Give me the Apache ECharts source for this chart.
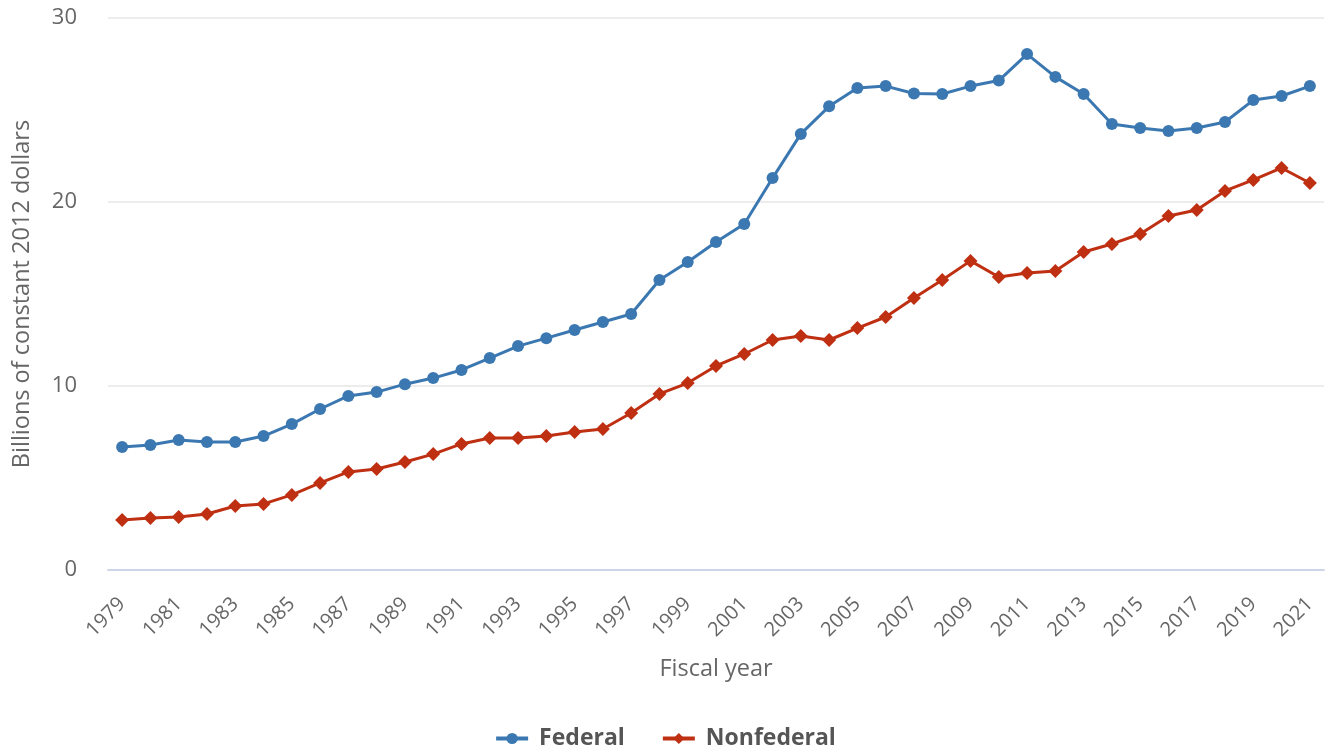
<!DOCTYPE html>
<html>
<head>
<meta charset="utf-8">
<script src="https://cdn.jsdelivr.net/npm/echarts@6/dist/echarts.min.js"></script>
<style>html,body{margin:0;padding:0;background:#fff}#c{width:1330px;height:750px}</style>
</head>
<body>
<div id="c"></div>
<script>
const years = [1979,1980,1981,1982,1983,1984,1985,1986,1987,1988,1989,1990,1991,1992,1993,1994,1995,1996,1997,1998,1999,2000,2001,2002,2003,2004,2005,2006,2007,2008,2009,2010,2011,2012,2013,2014,2015,2016,2017,2018,2019,2020,2021].map(String);
const federal = [6.68,6.79,7.07,6.96,6.96,7.28,7.93,8.75,9.46,9.67,10.1,10.43,10.87,11.52,12.17,12.6,13.04,13.48,13.91,15.76,16.74,17.83,18.8,21.3,23.7,25.2,26.2,26.3,25.9,25.87,26.3,26.6,28.04,26.8,25.87,24.24,24.02,23.86,24.02,24.35,25.54,25.76,26.3];
const nonfederal = [2.72,2.83,2.88,3.04,3.48,3.59,4.08,4.73,5.33,5.49,5.87,6.3,6.85,7.17,7.17,7.28,7.5,7.66,8.53,9.57,10.16,11.09,11.74,12.5,12.72,12.5,13.15,13.75,14.78,15.76,16.8,15.92,16.14,16.25,17.28,17.72,18.26,19.24,19.57,20.6,21.2,21.85,21.03];
const seriesNames = ['Federal','Nonfederal'];
const yTicks = [0,10,20,30];

const chart = echarts.init(document.getElementById('c'), null, {renderer:'canvas'});
const font = '"Open Sans", sans-serif';
chart.setOption({
  animation:false,
  textStyle:{fontFamily:font},
  grid:{left:108,right:6,top:18,bottom:180,containLabel:false},
  legend:{
    top:722, left:'center', itemWidth:32, itemHeight:14, itemGap:36,
    lineStyle:{width:4},
    textStyle:{fontFamily:font,fontSize:23,fontWeight:'bold',color:'#555',padding:[0,0,0,6]},
    data:seriesNames
  },
  xAxis:{
    type:'category', data:years, boundaryGap:true,
    name:'Fiscal year', nameLocation:'middle', nameGap:87,
    nameTextStyle:{fontFamily:font,fontSize:23.5,color:'#666'},
    axisLine:{lineStyle:{color:'#ccd6eb',width:2}},
    axisTick:{alignWithLabel:true,interval:1,length:10,lineStyle:{color:'#ccd6eb',width:2}},
    axisLabel:{interval:1,rotate:45,margin:31,fontFamily:font,fontSize:20,color:'#666'}
  },
  yAxis:{
    type:'value', min:yTicks[0], max:yTicks[yTicks.length-1], interval:10,
    name:'Billions of constant 2012 dollars', nameLocation:'middle', nameGap:74,
    nameTextStyle:{fontFamily:font,fontSize:23.5,color:'#666'},
    axisLine:{show:false}, axisTick:{show:false},
    axisLabel:{margin:31,fontFamily:font,fontSize:22,color:'#666'},
    splitLine:{lineStyle:{color:'#e6e6e6',width:1.5}}
  },
  series:[
    {name:seriesNames[0],type:'line',data:federal,symbol:'circle',symbolSize:12,
     lineStyle:{width:3,color:'#3b78b1'},itemStyle:{color:'#3b78b1'}},
    {name:seriesNames[1],type:'line',data:nonfederal,symbol:'diamond',symbolSize:14,
     lineStyle:{width:3,color:'#bf3013'},itemStyle:{color:'#bf3013'}}
  ]
});
</script>
</body>
</html>
